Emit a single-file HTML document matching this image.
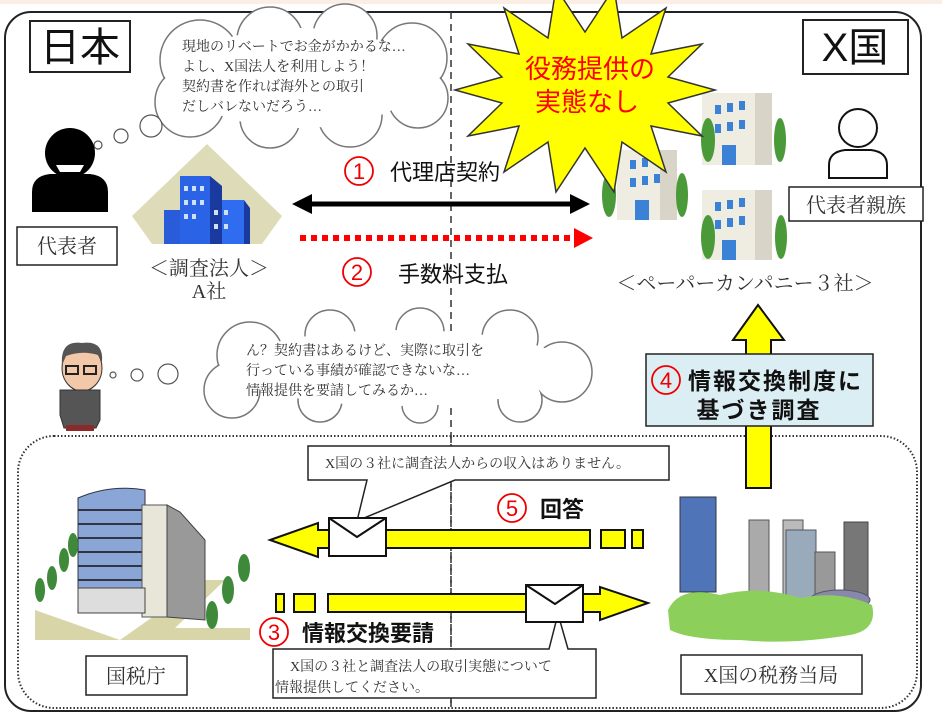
<!DOCTYPE html>
<html><head><meta charset="utf-8"><style>
html,body{margin:0;padding:0;background:#fff;}
svg{display:block;}
.m{font-family:"Liberation Serif","Noto Serif CJK SC",serif;fill:#333;}
.g{font-family:"Liberation Sans","Noto Sans CJK JP",sans-serif;}
</style></head><body>
<svg width="942" height="722" viewBox="0 0 942 722" xmlns="http://www.w3.org/2000/svg">
<rect x="0" y="0" width="942" height="4" fill="#fbeee4"/>
<rect x="5" y="12" width="916" height="699" rx="26" fill="#fff" stroke="#222" stroke-width="2"/>
<line x1="451" y1="12" x2="451" y2="708" stroke="#333" stroke-width="1.5" stroke-dasharray="7,5"/>
<!-- country labels -->
<rect x="30" y="21" width="100" height="51" fill="#fff" stroke="#222" stroke-width="2"/>
<text x="80" y="61" font-size="40" text-anchor="middle" class="g" fill="#111">日本</text>
<rect x="803" y="20" width="105" height="54" fill="#fff" stroke="#222" stroke-width="2"/>
<text x="855" y="61" font-size="40" text-anchor="middle" class="g" fill="#111">X国</text>
<!-- cloud 1 -->
<g stroke="#777" stroke-width="1.5" fill="#fff">
<circle cx="200" cy="60" r="40"/><circle cx="270" cy="40" r="33"/><circle cx="345" cy="36" r="32"/><circle cx="412" cy="58" r="35"/><circle cx="418" cy="98" r="30"/><circle cx="350" cy="115" r="32"/><circle cx="270" cy="118" r="30"/><circle cx="190" cy="102" r="35"/>
</g>
<g fill="#fff"><circle cx="200" cy="60" r="39"/><circle cx="270" cy="40" r="32"/><circle cx="345" cy="36" r="31"/><circle cx="412" cy="58" r="34"/><circle cx="418" cy="98" r="29"/><circle cx="350" cy="115" r="31"/><circle cx="270" cy="118" r="29"/><circle cx="190" cy="102" r="34"/><ellipse cx="300" cy="78" rx="120" ry="50"/></g>
<g class="m" font-size="14"><text x="182" y="51">現地のリベートでお金がかかるな…</text><text x="182" y="71">よし、X国法人を利用しよう！</text><text x="182" y="91">契約書を作れば海外との取引</text><text x="182" y="111">だしバレないだろう…</text></g>
<g fill="#fff" stroke="#555" stroke-width="1.2"><circle cx="98" cy="145" r="4"/><circle cx="121" cy="136" r="7"/><circle cx="151" cy="126" r="11"/></g>
<!-- black person -->
<circle cx="70" cy="153" r="25" fill="#000"/>
<path d="M32 212 L32 192 Q32 176 50 174 L90 174 Q108 176 108 192 L108 212 Z" fill="#000"/>
<path d="M56 165 L84 165 L80 172 L60 172 Z" fill="#fff"/>
<rect x="17" y="227" width="100" height="38" fill="#fff" stroke="#222" stroke-width="1.5"/>
<text x="67" y="253" font-size="20" text-anchor="middle" class="m">代表者</text>
<!-- building A -->
<polygon points="207,144 282,216 262,244 152,244 132,216" fill="#dedcb8"/>
<rect x="164" y="210" width="20" height="34" fill="#2a5bd8"/><rect x="180" y="176" width="30" height="68" fill="#2b63e6"/><rect x="210" y="200" width="34" height="44" fill="#2f6cf0"/>
<polygon points="210,176 222,186 222,244 210,244" fill="#1a3aa0"/><polygon points="244,200 250,208 250,244 244,244" fill="#1a3aa0"/>
<g fill="#cfe0ff"><rect x="184" y="186" width="4" height="5"/><rect x="192" y="186" width="4" height="5"/><rect x="200" y="186" width="4" height="5"/><rect x="184" y="200" width="4" height="5"/><rect x="192" y="200" width="4" height="5"/><rect x="200" y="200" width="4" height="5"/><rect x="184" y="214" width="4" height="5"/><rect x="192" y="214" width="4" height="5"/><rect x="214" y="210" width="4" height="5"/><rect x="224" y="210" width="4" height="5"/><rect x="214" y="224" width="4" height="5"/><rect x="224" y="224" width="4" height="5"/></g>
<text x="209" y="275" font-size="20" text-anchor="middle" class="m">＜調査法人＞</text>
<text x="209" y="298" font-size="20" text-anchor="middle" class="m">A社</text>
<!-- arrow 1 -->
<line x1="310" y1="204" x2="573" y2="204" stroke="#000" stroke-width="5"/>
<polygon points="292,204 312,194 312,214" fill="#000"/><polygon points="590,204 570,194 570,214" fill="#000"/>
<circle cx="359" cy="171" r="14" fill="none" stroke="#e00" stroke-width="1.8"/><text x="359" y="179" font-size="22" text-anchor="middle" class="g" fill="#e00">1</text>
<text x="390" y="180" font-size="22" class="g" fill="#111">代理店契約</text>
<!-- arrow 2 -->
<line x1="300" y1="238" x2="575" y2="238" stroke="#f00" stroke-width="6" stroke-dasharray="6,5"/>
<polygon points="593,238 574,228 574,248" fill="#f00"/>
<circle cx="357" cy="272" r="14" fill="none" stroke="#e00" stroke-width="1.8"/><text x="357" y="280" font-size="22" text-anchor="middle" class="g" fill="#e00">2</text>
<text x="398" y="282" font-size="22" class="g" fill="#111">手数料支払</text>
<!-- paper company buildings -->
<g>
<rect x="617" y="150" width="60" height="70" fill="#efece2"/><rect x="660" y="150" width="17" height="70" fill="#d8d4c8"/>
<rect x="702" y="93" width="70" height="72" fill="#efece2"/><rect x="755" y="93" width="17" height="72" fill="#d8d4c8"/>
<rect x="702" y="190" width="70" height="70" fill="#efece2"/><rect x="755" y="190" width="17" height="70" fill="#d8d4c8"/>
<g fill="#3b82d6">
<rect x="630" y="160" width="6" height="9"/><rect x="642" y="158" width="6" height="9"/><rect x="654" y="156" width="6" height="9"/><rect x="630" y="178" width="6" height="9"/><rect x="642" y="176" width="6" height="9"/><rect x="654" y="174" width="6" height="9"/><rect x="635" y="200" width="14" height="20"/>
<rect x="715" y="105" width="6" height="9"/><rect x="727" y="103" width="6" height="9"/><rect x="739" y="101" width="6" height="9"/><rect x="715" y="124" width="6" height="9"/><rect x="727" y="122" width="6" height="9"/><rect x="739" y="120" width="6" height="9"/><rect x="722" y="145" width="14" height="20"/>
<rect x="715" y="202" width="6" height="9"/><rect x="727" y="200" width="6" height="9"/><rect x="739" y="198" width="6" height="9"/><rect x="715" y="220" width="6" height="9"/><rect x="727" y="218" width="6" height="9"/><rect x="739" y="216" width="6" height="9"/><rect x="722" y="240" width="14" height="20"/>
</g>
<g fill="#4a9a3a"><ellipse cx="609" cy="195" rx="7" ry="22"/><ellipse cx="682" cy="195" rx="6" ry="22"/><ellipse cx="708" cy="140" rx="7" ry="22"/><ellipse cx="780" cy="140" rx="6" ry="22"/><ellipse cx="708" cy="237" rx="7" ry="22"/><ellipse cx="781" cy="237" rx="6" ry="22"/></g>
</g>
<text x="745" y="290" font-size="20" text-anchor="middle" class="m">＜ペーパーカンパニー３社＞</text>
<!-- outline person -->
<circle cx="858" cy="128" r="19" fill="#fff" stroke="#111" stroke-width="2"/>
<path d="M829 178 L829 165 Q829 152 845 150 L871 150 Q887 152 887 165 L887 178 Z" fill="#fff" stroke="#111" stroke-width="2"/>
<rect x="789" y="187" width="134" height="34" fill="#fff" stroke="#222" stroke-width="1.5"/>
<text x="856" y="212" font-size="20" text-anchor="middle" class="m">代表者親族</text>
<!-- starburst -->
<polygon points="715,90 668,103 702,136 651,126 666,172 622,142 614,192 585,148 556,192 548,142 504,172 519,126 468,136 502,103 455,90 502,77 468,44 519,54 504,8 548,38 556,-12 585,32 614,-12 622,38 666,8 651,54 702,44 668,77" fill="#ffff00" stroke="#333" stroke-width="1.5"/>
<text x="590" y="78" font-size="26" text-anchor="middle" class="g" fill="#f00">役務提供の</text>
<text x="587" y="111" font-size="26" text-anchor="middle" class="g" fill="#f00">実態なし</text>
<!-- officer -->
<g>
<ellipse cx="82" cy="368" rx="20" ry="23" fill="#f2c8a8" stroke="#333"/>
<path d="M62 365 Q60 340 82 343 Q104 340 102 362 L98 355 Q82 350 66 356 Z" fill="#555"/>
<rect x="66" y="366" width="12" height="8" fill="none" stroke="#222" stroke-width="2"/><rect x="84" y="366" width="12" height="8" fill="none" stroke="#222" stroke-width="2"/>
<path d="M60 390 L100 390 L100 420 L96 428 L64 428 L60 415 Z" fill="#555" stroke="#333"/>
<rect x="66" y="425" width="28" height="6" fill="#8a2a2a"/>
</g>
<g fill="#fff" stroke="#555" stroke-width="1.2"><circle cx="113" cy="375" r="3"/><circle cx="137" cy="375" r="6"/><circle cx="168" cy="374" r="10"/></g>
<!-- cloud 2 -->
<g stroke="#777" stroke-width="1.5" fill="#fff">
<circle cx="250" cy="355" r="33"/><circle cx="330" cy="335" r="25"/><circle cx="420" cy="332" r="24"/><circle cx="510" cy="338" r="28"/><circle cx="562" cy="372" r="30"/><circle cx="520" cy="400" r="22"/><circle cx="420" cy="405" r="18"/><circle cx="320" cy="400" r="22"/><circle cx="232" cy="390" r="28"/>
</g>
<g fill="#fff"><circle cx="250" cy="355" r="32"/><circle cx="330" cy="335" r="24"/><circle cx="420" cy="332" r="23"/><circle cx="510" cy="338" r="27"/><circle cx="562" cy="372" r="29"/><circle cx="520" cy="400" r="21"/><circle cx="420" cy="405" r="17"/><circle cx="320" cy="400" r="21"/><circle cx="232" cy="390" r="27"/><ellipse cx="400" cy="368" rx="170" ry="38"/></g>
<g class="m" font-size="14"><text x="246" y="355">ん？契約書はあるけど、実際に取引を</text><text x="246" y="375">行っている事績が確認できないな…</text><text x="246" y="395">情報提供を要請してみるか…</text></g>
<!-- dotted region -->
<rect x="18" y="436" width="899" height="272" rx="36" fill="none" stroke="#333" stroke-width="2" stroke-dasharray="1.5,2"/>
<line x1="451" y1="436" x2="451" y2="708" stroke="#333" stroke-width="1.5" stroke-dasharray="7,5"/>
<!-- vertical arrow 4 -->
<polygon points="746,488 771,488 771,340 784,340 758,305 733,340 746,340" fill="#ffff00" stroke="#111" stroke-width="2"/>
<rect x="646" y="354" width="227" height="72" fill="#dbeef4" stroke="#222" stroke-width="1.5"/>
<circle cx="666" cy="380" r="14" fill="none" stroke="#e00" stroke-width="1.8"/><text x="666" y="388" font-size="22" text-anchor="middle" class="g" fill="#e00">4</text>
<text x="688" y="389" font-size="23" font-weight="bold" class="g" fill="#111" letter-spacing="2">情報交換制度に</text>
<text x="759" y="418" font-size="23" font-weight="bold" text-anchor="middle" class="g" fill="#111" letter-spacing="2">基づき調査</text>
<!-- arrow 5 -->
<polygon points="270,540 318,523 318,530 590,530 590,548 318,548 318,557" fill="#ffff00" stroke="#111" stroke-width="2"/>
<rect x="601" y="530" width="24" height="18" fill="#ffff00" stroke="#111" stroke-width="2"/><rect x="632" y="530" width="11" height="18" fill="#ffff00" stroke="#111" stroke-width="2"/>
<polygon points="308,446 669,446 669,480 455,480 357,521 367,480 308,480" fill="#fff" stroke="#222" stroke-width="1.5"/>
<text x="325" y="468" font-size="14" class="m">X国の３社に調査法人からの収入はありません。</text>
<rect x="329" y="518" width="57" height="38" fill="#fff" stroke="#111" stroke-width="2"/><polyline points="329,518 357,537 386,518" fill="none" stroke="#111" stroke-width="2"/>
<circle cx="512" cy="508" r="14" fill="none" stroke="#e00" stroke-width="1.8"/><text x="512" y="516" font-size="22" text-anchor="middle" class="g" fill="#e00">5</text>
<text x="540" y="517" font-size="22" font-weight="bold" class="g" fill="#111">回答</text>
<!-- arrow 3 -->
<rect x="276" y="594" width="8" height="18" fill="#ffff00" stroke="#111" stroke-width="2"/><rect x="294" y="594" width="21" height="18" fill="#ffff00" stroke="#111" stroke-width="2"/>
<polygon points="328,594 600,594 600,587 648,603 600,620 600,612 328,612" fill="#ffff00" stroke="#111" stroke-width="2"/>
<polygon points="273,649 549,649 558,614 568,649 596,649 596,698 273,698" fill="#fff" stroke="#222" stroke-width="1.5"/>
<text x="290" y="671" font-size="14" class="m">X国の３社と調査法人の取引実態について</text>
<text x="275" y="692" font-size="14" class="m">情報提供してください。</text>
<rect x="526" y="585" width="57" height="37" fill="#fff" stroke="#111" stroke-width="2"/><polyline points="526,585 555,604 583,585" fill="none" stroke="#111" stroke-width="2"/>
<circle cx="274" cy="632" r="14" fill="#fff" stroke="#e00" stroke-width="1.8"/><text x="274" y="640" font-size="22" text-anchor="middle" class="g" fill="#e00">3</text>
<text x="302" y="641" font-size="22" font-weight="bold" class="g" fill="#111">情報交換要請</text>
<!-- NTA building -->
<polygon points="35,640 250,640 250,628 175,628 225,580 205,580 120,640 35,610" fill="#d8d6a8"/>
<path d="M78 498 Q110 484 145 490 L145 612 L78 612 Z" fill="#8aa6d6" stroke="#334" stroke-width="1"/>
<g stroke="#334" stroke-width="2"><line x1="78" y1="510" x2="145" y2="510"/><line x1="78" y1="524" x2="145" y2="524"/><line x1="78" y1="538" x2="145" y2="538"/><line x1="78" y1="552" x2="145" y2="552"/><line x1="78" y1="566" x2="145" y2="566"/><line x1="78" y1="580" x2="145" y2="580"/></g>
<rect x="142" y="505" width="25" height="112" fill="#e8e6d8" stroke="#555"/>
<polygon points="167,505 180,512 205,540 205,620 167,617" fill="#999" stroke="#444"/>
<rect x="78" y="588" width="67" height="25" fill="#ddd" stroke="#444"/>
<g fill="#3f8a3a"><ellipse cx="40" cy="590" rx="5" ry="12"/><ellipse cx="52" cy="578" rx="5" ry="12"/><ellipse cx="64" cy="560" rx="5" ry="12"/><ellipse cx="73" cy="545" rx="5" ry="12"/><ellipse cx="212" cy="615" rx="6" ry="14"/><ellipse cx="228" cy="590" rx="6" ry="14"/><ellipse cx="244" cy="568" rx="6" ry="14"/></g>
<rect x="86" y="656" width="101" height="39" fill="#fff" stroke="#222" stroke-width="1.5"/>
<text x="136" y="683" font-size="20" text-anchor="middle" class="m">国税庁</text>
<!-- city -->
<rect x="680" y="497" width="36" height="95" fill="#4f74b8" stroke="#334"/>
<rect x="749" y="520" width="20" height="75" fill="#aaa" stroke="#555"/><rect x="783" y="520" width="20" height="75" fill="#bbb" stroke="#555"/><rect x="786" y="530" width="30" height="70" fill="#9ab" stroke="#556"/><rect x="815" y="552" width="20" height="45" fill="#999" stroke="#555"/><rect x="844" y="522" width="24" height="75" fill="#777" stroke="#444"/>
<ellipse cx="840" cy="600" rx="30" ry="10" fill="#88a" stroke="#556"/>
<path d="M668 610 Q680 585 720 595 Q760 585 800 598 Q840 590 872 605 Q878 630 850 635 Q790 645 740 640 Q690 640 670 630 Z" fill="#8ccf5a"/>
<rect x="681" y="655" width="181" height="39" fill="#fff" stroke="#222" stroke-width="1.5"/>
<text x="771" y="682" font-size="20" text-anchor="middle" class="m">X国の税務当局</text>
</svg>
</body></html>
